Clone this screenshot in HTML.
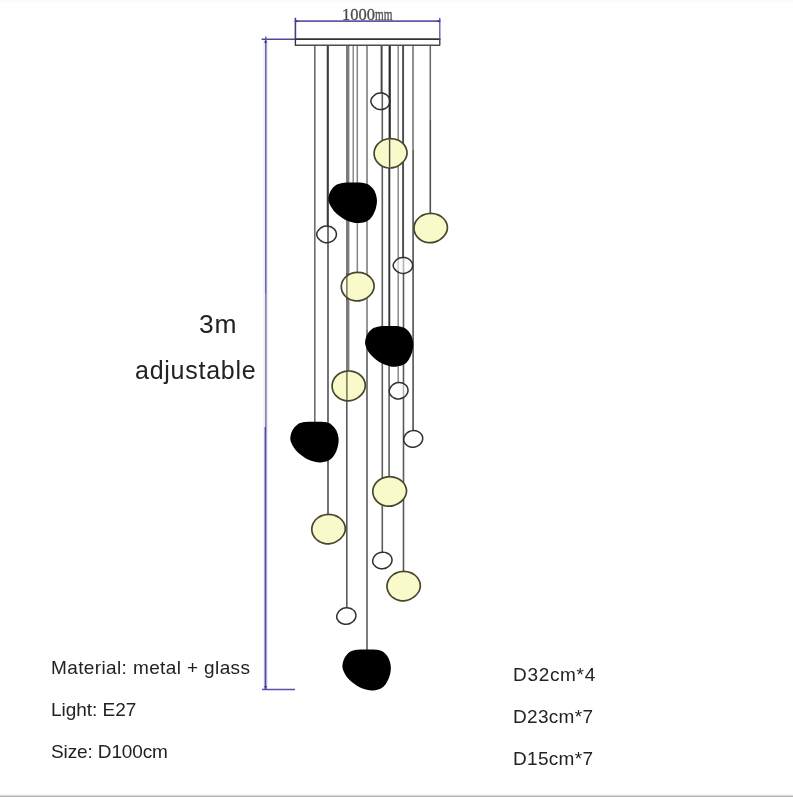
<!DOCTYPE html>
<html><head><meta charset="utf-8"><title>Chandelier dimensions</title>
<style>
html,body{margin:0;padding:0;background:#fff;}
body{width:793px;height:797px;position:relative;overflow:hidden;font-family:"Liberation Sans",sans-serif;color:#222;}
.t{position:absolute;white-space:nowrap;line-height:1;margin:0;opacity:0.999;will-change:transform;}
.s{font-size:19px;letter-spacing:0.32px;}
.dim{font-family:"Liberation Serif",serif;color:#484848;font-size:16px;-webkit-text-stroke:0.3px #555;}
.dim span{display:inline-block;transform-origin:0 100%;}
.bot{position:absolute;left:0;bottom:0;width:793px;height:3px;background:linear-gradient(#fff 0,#e4e4e4 45%,#9a9a9a 100%);}
</style></head><body>
<svg width="793" height="797" viewBox="0 0 793 797" style="position:absolute;left:0;top:0">
<line x1="314.8" y1="45.0" x2="314.8" y2="422.5" stroke="#6c6c6c" stroke-width="1.6"/>
<line x1="327.8" y1="45.0" x2="327.8" y2="226.0" stroke="#3c3c3c" stroke-width="2.1"/>
<line x1="328.0" y1="226.0" x2="328.0" y2="514.0" stroke="#525252" stroke-width="1.6"/>
<line x1="347.7" y1="45.0" x2="347.7" y2="371.5" stroke="#7c7c7c" stroke-width="3.4"/>
<line x1="346.8" y1="371.0" x2="346.8" y2="608.0" stroke="#5a5a5a" stroke-width="1.6"/>
<line x1="353.2" y1="45.0" x2="353.2" y2="183.5" stroke="#858585" stroke-width="1.4"/>
<line x1="357.3" y1="45.0" x2="357.3" y2="272.0" stroke="#858585" stroke-width="1.5"/>
<line x1="367.0" y1="45.0" x2="367.0" y2="330.0" stroke="#747474" stroke-width="1.5"/>
<line x1="367.0" y1="330.0" x2="367.0" y2="650.0" stroke="#5c5c5c" stroke-width="1.6"/>
<line x1="381.6" y1="45.0" x2="381.6" y2="93.3" stroke="#484848" stroke-width="2.0"/>
<line x1="382.3" y1="93.0" x2="382.3" y2="552.4" stroke="#5e5e5e" stroke-width="1.6"/>
<line x1="389.7" y1="45.0" x2="389.7" y2="139.0" stroke="#2a2a2a" stroke-width="2.2"/>
<line x1="389.3" y1="139.0" x2="389.3" y2="327.0" stroke="#333" stroke-width="1.9"/>
<line x1="389.1" y1="327.0" x2="389.1" y2="476.5" stroke="#555" stroke-width="1.5"/>
<line x1="398.2" y1="45.0" x2="398.2" y2="382.6" stroke="#808080" stroke-width="1.4"/>
<line x1="403.1" y1="45.0" x2="403.1" y2="257.5" stroke="#4a4a4a" stroke-width="1.9"/>
<line x1="403.5" y1="257.0" x2="403.5" y2="571.7" stroke="#5a5a5a" stroke-width="1.6"/>
<line x1="413.0" y1="45.0" x2="413.0" y2="150.0" stroke="#6c6c6c" stroke-width="1.5"/>
<line x1="413.1" y1="150.0" x2="413.1" y2="431.0" stroke="#5a5a5a" stroke-width="1.7"/>
<line x1="430.3" y1="45.0" x2="430.3" y2="120.0" stroke="#666" stroke-width="1.5"/>
<line x1="430.3" y1="120.0" x2="430.3" y2="213.3" stroke="#505050" stroke-width="1.6"/>
<rect x="295.4" y="39.2" width="144.4" height="6" fill="#fff" stroke="none"/>
<line x1="294.6" y1="39.2" x2="440.4" y2="39.2" stroke="#333" stroke-width="1.8"/>
<line x1="295" y1="45.2" x2="440" y2="45.2" stroke="#4c4c4c" stroke-width="1.4"/>
<line x1="295.4" y1="39" x2="295.4" y2="45.6" stroke="#333" stroke-width="1.4"/>
<line x1="439.8" y1="39" x2="439.8" y2="45.6" stroke="#444" stroke-width="1.4"/>
<line x1="265.7" y1="41" x2="265.7" y2="690" stroke="#e4e4fb" stroke-width="4.6" stroke-opacity="0.75"/>
<line x1="295.4" y1="17.8" x2="295.4" y2="39" stroke="#423f88" stroke-width="1.6"/>
<line x1="439.8" y1="17.8" x2="439.8" y2="39" stroke="#5a58a8" stroke-width="1.3"/>
<line x1="294.6" y1="21.2" x2="440.6" y2="21.2" stroke="#5f58a8" stroke-width="1.7"/>
<path d="M295.4 19.8 L299.5 21.2 L295.4 22.4Z M439.8 19.8 L435.7 21.2 L439.8 22.4Z" fill="#423f88"/>
<line x1="261.6" y1="39.2" x2="295" y2="39.2" stroke="#4e4a96" stroke-width="1.5"/>
<line x1="265.8" y1="36.5" x2="265.8" y2="293" stroke="#6060a6" stroke-width="1.5"/>
<line x1="265.9" y1="293" x2="265.9" y2="427.2" stroke="#74748e" stroke-width="1.4"/>
<line x1="265.5" y1="427" x2="265.5" y2="690" stroke="#4c4c9a" stroke-width="1.8"/>
<path d="M264.2 43 L265.6 38.6 L267 43Z M264.2 686 L265.6 690 L267 686Z" fill="#423f88"/>
<line x1="262" y1="689.4" x2="295" y2="689.4" stroke="#5552a8" stroke-width="1.5"/>
<defs><linearGradient id="yl" x1="0" x2="1" y1="0" y2="0"><stop offset="0.19" stop-color="#fdfdf0"/><stop offset="0.19" stop-color="#f9fac9"/></linearGradient></defs>
<path d="M407.00 153.42C406.95 154.50 406.73 155.61 406.39 156.64C406.05 157.67 405.55 158.68 404.97 159.60C404.38 160.52 403.67 161.39 402.91 162.18C402.14 162.98 401.30 163.71 400.39 164.37C399.49 165.04 398.52 165.65 397.49 166.16C396.46 166.67 395.35 167.12 394.21 167.43C393.07 167.73 391.85 167.94 390.64 168.00C389.44 168.06 388.18 167.98 386.99 167.77C385.79 167.56 384.59 167.20 383.48 166.74C382.37 166.28 381.30 165.68 380.33 165.00C379.37 164.32 378.48 163.52 377.71 162.66C376.94 161.80 376.27 160.84 375.74 159.85C375.21 158.86 374.79 157.79 374.51 156.72C374.24 155.65 374.10 154.52 374.10 153.42C374.10 152.32 374.24 151.19 374.51 150.12C374.79 149.05 375.21 147.98 375.74 146.99C376.27 146.00 376.94 145.04 377.71 144.18C378.47 143.32 379.37 142.52 380.33 141.83C381.29 141.15 382.36 140.54 383.46 140.07C384.57 139.59 385.77 139.22 386.96 138.97C388.16 138.73 389.42 138.60 390.64 138.60C391.87 138.60 393.13 138.73 394.32 138.97C395.52 139.22 396.71 139.59 397.82 140.07C398.92 140.54 400.00 141.15 400.96 141.83C401.91 142.52 402.81 143.32 403.57 144.18C404.33 145.04 405.01 146.01 405.53 147.00C406.05 147.99 406.46 149.07 406.70 150.14C406.95 151.21 407.05 152.34 407.00 153.42Z" fill="#f9fac9" stroke="none"/>
<line x1="389.6" y1="139.3" x2="389.6" y2="167.3" stroke="#46463a" stroke-width="1.4"/>
<path d="M407.00 153.42C406.95 154.50 406.73 155.61 406.39 156.64C406.05 157.67 405.55 158.68 404.97 159.60C404.38 160.52 403.67 161.39 402.91 162.18C402.14 162.98 401.30 163.71 400.39 164.37C399.49 165.04 398.52 165.65 397.49 166.16C396.46 166.67 395.35 167.12 394.21 167.43C393.07 167.73 391.85 167.94 390.64 168.00C389.44 168.06 388.18 167.98 386.99 167.77C385.79 167.56 384.59 167.20 383.48 166.74C382.37 166.28 381.30 165.68 380.33 165.00C379.37 164.32 378.48 163.52 377.71 162.66C376.94 161.80 376.27 160.84 375.74 159.85C375.21 158.86 374.79 157.79 374.51 156.72C374.24 155.65 374.10 154.52 374.10 153.42C374.10 152.32 374.24 151.19 374.51 150.12C374.79 149.05 375.21 147.98 375.74 146.99C376.27 146.00 376.94 145.04 377.71 144.18C378.47 143.32 379.37 142.52 380.33 141.83C381.29 141.15 382.36 140.54 383.46 140.07C384.57 139.59 385.77 139.22 386.96 138.97C388.16 138.73 389.42 138.60 390.64 138.60C391.87 138.60 393.13 138.73 394.32 138.97C395.52 139.22 396.71 139.59 397.82 140.07C398.92 140.54 400.00 141.15 400.96 141.83C401.91 142.52 402.81 143.32 403.57 144.18C404.33 145.04 405.01 146.01 405.53 147.00C406.05 147.99 406.46 149.07 406.70 150.14C406.95 151.21 407.05 152.34 407.00 153.42Z" fill="none" stroke="#48462f" stroke-width="1.7"/>
<path d="M447.40 228.17C447.35 229.25 447.13 230.35 446.78 231.38C446.44 232.41 445.92 233.41 445.33 234.33C444.74 235.25 444.02 236.11 443.24 236.90C442.47 237.70 441.61 238.43 440.69 239.09C439.78 239.75 438.79 240.36 437.75 240.87C436.70 241.37 435.58 241.82 434.42 242.13C433.26 242.43 432.02 242.64 430.79 242.70C429.57 242.76 428.29 242.68 427.08 242.47C425.87 242.26 424.65 241.91 423.52 241.45C422.40 240.99 421.31 240.39 420.33 239.71C419.35 239.03 418.44 238.23 417.67 237.38C416.89 236.52 416.20 235.56 415.66 234.58C415.12 233.59 414.70 232.52 414.42 231.46C414.14 230.39 414.00 229.27 414.00 228.17C414.00 227.07 414.14 225.95 414.42 224.88C414.70 223.82 415.12 222.75 415.66 221.76C416.20 220.77 416.89 219.82 417.66 218.96C418.44 218.10 419.35 217.31 420.32 216.62C421.30 215.94 422.38 215.34 423.51 214.86C424.63 214.39 425.84 214.01 427.06 213.77C428.27 213.53 429.55 213.40 430.79 213.40C432.04 213.40 433.32 213.53 434.53 213.77C435.74 214.01 436.96 214.39 438.08 214.86C439.20 215.34 440.29 215.94 441.26 216.62C442.24 217.31 443.15 218.11 443.92 218.96C444.69 219.82 445.38 220.78 445.90 221.77C446.43 222.76 446.85 223.83 447.10 224.90C447.35 225.96 447.45 227.09 447.40 228.17Z" fill="#f9fac9" stroke="none"/>
<path d="M447.40 228.17C447.35 229.25 447.13 230.35 446.78 231.38C446.44 232.41 445.92 233.41 445.33 234.33C444.74 235.25 444.02 236.11 443.24 236.90C442.47 237.70 441.61 238.43 440.69 239.09C439.78 239.75 438.79 240.36 437.75 240.87C436.70 241.37 435.58 241.82 434.42 242.13C433.26 242.43 432.02 242.64 430.79 242.70C429.57 242.76 428.29 242.68 427.08 242.47C425.87 242.26 424.65 241.91 423.52 241.45C422.40 240.99 421.31 240.39 420.33 239.71C419.35 239.03 418.44 238.23 417.67 237.38C416.89 236.52 416.20 235.56 415.66 234.58C415.12 233.59 414.70 232.52 414.42 231.46C414.14 230.39 414.00 229.27 414.00 228.17C414.00 227.07 414.14 225.95 414.42 224.88C414.70 223.82 415.12 222.75 415.66 221.76C416.20 220.77 416.89 219.82 417.66 218.96C418.44 218.10 419.35 217.31 420.32 216.62C421.30 215.94 422.38 215.34 423.51 214.86C424.63 214.39 425.84 214.01 427.06 213.77C428.27 213.53 429.55 213.40 430.79 213.40C432.04 213.40 433.32 213.53 434.53 213.77C435.74 214.01 436.96 214.39 438.08 214.86C439.20 215.34 440.29 215.94 441.26 216.62C442.24 217.31 443.15 218.11 443.92 218.96C444.69 219.82 445.38 220.78 445.90 221.77C446.43 222.76 446.85 223.83 447.10 224.90C447.35 225.96 447.45 227.09 447.40 228.17Z" fill="none" stroke="#48462f" stroke-width="1.7"/>
<path d="M374.10 286.72C374.05 287.77 373.83 288.85 373.49 289.85C373.16 290.85 372.65 291.83 372.07 292.73C371.49 293.63 370.78 294.47 370.02 295.24C369.26 296.01 368.41 296.73 367.51 297.37C366.61 298.02 365.65 298.62 364.62 299.11C363.59 299.61 362.49 300.04 361.35 300.34C360.21 300.64 358.99 300.84 357.79 300.90C356.59 300.96 355.34 300.88 354.15 300.68C352.96 300.47 351.76 300.13 350.65 299.68C349.55 299.23 348.47 298.64 347.52 297.98C346.56 297.32 345.66 296.54 344.90 295.70C344.14 294.87 343.46 293.94 342.93 292.97C342.40 292.01 341.99 290.97 341.71 289.92C341.44 288.88 341.30 287.79 341.30 286.72C341.30 285.65 341.44 284.55 341.71 283.51C341.99 282.47 342.40 281.43 342.93 280.46C343.46 279.50 344.14 278.56 344.90 277.73C345.66 276.89 346.55 276.11 347.51 275.45C348.47 274.78 349.53 274.19 350.64 273.73C351.74 273.26 352.93 272.90 354.12 272.66C355.31 272.42 356.57 272.30 357.79 272.30C359.02 272.30 360.27 272.42 361.46 272.66C362.65 272.90 363.85 273.26 364.95 273.73C366.05 274.19 367.12 274.78 368.07 275.45C369.03 276.11 369.92 276.89 370.68 277.73C371.44 278.57 372.11 279.50 372.63 280.47C373.15 281.43 373.56 282.48 373.80 283.52C374.05 284.56 374.15 285.66 374.10 286.72Z" fill="url(#yl)" stroke="none"/>
<line x1="346.9" y1="273.0" x2="346.9" y2="300.2" stroke="#55533a" stroke-width="1.2"/>
<path d="M374.10 286.72C374.05 287.77 373.83 288.85 373.49 289.85C373.16 290.85 372.65 291.83 372.07 292.73C371.49 293.63 370.78 294.47 370.02 295.24C369.26 296.01 368.41 296.73 367.51 297.37C366.61 298.02 365.65 298.62 364.62 299.11C363.59 299.61 362.49 300.04 361.35 300.34C360.21 300.64 358.99 300.84 357.79 300.90C356.59 300.96 355.34 300.88 354.15 300.68C352.96 300.47 351.76 300.13 350.65 299.68C349.55 299.23 348.47 298.64 347.52 297.98C346.56 297.32 345.66 296.54 344.90 295.70C344.14 294.87 343.46 293.94 342.93 292.97C342.40 292.01 341.99 290.97 341.71 289.92C341.44 288.88 341.30 287.79 341.30 286.72C341.30 285.65 341.44 284.55 341.71 283.51C341.99 282.47 342.40 281.43 342.93 280.46C343.46 279.50 344.14 278.56 344.90 277.73C345.66 276.89 346.55 276.11 347.51 275.45C348.47 274.78 349.53 274.19 350.64 273.73C351.74 273.26 352.93 272.90 354.12 272.66C355.31 272.42 356.57 272.30 357.79 272.30C359.02 272.30 360.27 272.42 361.46 272.66C362.65 272.90 363.85 273.26 364.95 273.73C366.05 274.19 367.12 274.78 368.07 275.45C369.03 276.11 369.92 276.89 370.68 277.73C371.44 278.57 372.11 279.50 372.63 280.47C373.15 281.43 373.56 282.48 373.80 283.52C374.05 284.56 374.15 285.66 374.10 286.72Z" fill="none" stroke="#48462f" stroke-width="1.7"/>
<path d="M365.30 386.02C365.25 387.12 365.03 388.24 364.69 389.29C364.34 390.33 363.83 391.35 363.25 392.29C362.66 393.22 361.94 394.10 361.17 394.90C360.40 395.71 359.54 396.45 358.63 397.13C357.72 397.80 356.74 398.42 355.70 398.94C354.66 399.45 353.55 399.91 352.39 400.22C351.24 400.53 350.01 400.74 348.79 400.80C347.58 400.86 346.31 400.78 345.10 400.57C343.90 400.35 342.69 399.99 341.57 399.52C340.45 399.06 339.36 398.45 338.39 397.76C337.42 397.07 336.52 396.26 335.74 395.39C334.97 394.52 334.29 393.54 333.75 392.54C333.22 391.54 332.79 390.45 332.52 389.36C332.24 388.28 332.10 387.14 332.10 386.02C332.10 384.91 332.24 383.77 332.52 382.68C332.79 381.59 333.22 380.51 333.75 379.50C334.29 378.50 334.97 377.53 335.74 376.66C336.51 375.78 337.42 374.97 338.39 374.28C339.35 373.58 340.43 372.97 341.55 372.49C342.67 372.00 343.87 371.62 345.08 371.38C346.29 371.13 347.55 371.00 348.79 371.00C350.03 371.00 351.30 371.13 352.51 371.38C353.71 371.62 354.92 372.00 356.04 372.49C357.15 372.97 358.23 373.58 359.20 374.28C360.17 374.97 361.07 375.79 361.84 376.66C362.61 377.53 363.29 378.51 363.81 379.51C364.34 380.52 364.75 381.61 365.00 382.69C365.25 383.78 365.35 384.92 365.30 386.02Z" fill="#f9fac9" stroke="none"/>
<line x1="346.9" y1="371.7" x2="346.9" y2="400.1" stroke="#66644e" stroke-width="1.4"/>
<path d="M365.30 386.02C365.25 387.12 365.03 388.24 364.69 389.29C364.34 390.33 363.83 391.35 363.25 392.29C362.66 393.22 361.94 394.10 361.17 394.90C360.40 395.71 359.54 396.45 358.63 397.13C357.72 397.80 356.74 398.42 355.70 398.94C354.66 399.45 353.55 399.91 352.39 400.22C351.24 400.53 350.01 400.74 348.79 400.80C347.58 400.86 346.31 400.78 345.10 400.57C343.90 400.35 342.69 399.99 341.57 399.52C340.45 399.06 339.36 398.45 338.39 397.76C337.42 397.07 336.52 396.26 335.74 395.39C334.97 394.52 334.29 393.54 333.75 392.54C333.22 391.54 332.79 390.45 332.52 389.36C332.24 388.28 332.10 387.14 332.10 386.02C332.10 384.91 332.24 383.77 332.52 382.68C332.79 381.59 333.22 380.51 333.75 379.50C334.29 378.50 334.97 377.53 335.74 376.66C336.51 375.78 337.42 374.97 338.39 374.28C339.35 373.58 340.43 372.97 341.55 372.49C342.67 372.00 343.87 371.62 345.08 371.38C346.29 371.13 347.55 371.00 348.79 371.00C350.03 371.00 351.30 371.13 352.51 371.38C353.71 371.62 354.92 372.00 356.04 372.49C357.15 372.97 358.23 373.58 359.20 374.28C360.17 374.97 361.07 375.79 361.84 376.66C362.61 377.53 363.29 378.51 363.81 379.51C364.34 380.52 364.75 381.61 365.00 382.69C365.25 383.78 365.35 384.92 365.30 386.02Z" fill="none" stroke="#48462f" stroke-width="1.7"/>
<path d="M406.50 491.57C406.45 492.66 406.23 493.77 405.88 494.80C405.53 495.84 405.01 496.84 404.42 497.77C403.82 498.70 403.09 499.56 402.31 500.36C401.53 501.16 400.66 501.90 399.73 502.56C398.81 503.23 397.82 503.84 396.76 504.36C395.70 504.87 394.57 505.32 393.40 505.63C392.23 505.93 390.98 506.14 389.74 506.20C388.51 506.26 387.22 506.18 386.00 505.97C384.78 505.76 383.55 505.40 382.41 504.94C381.27 504.47 380.17 503.87 379.19 503.19C378.20 502.51 377.28 501.70 376.50 500.84C375.71 499.98 375.02 499.02 374.48 498.02C373.93 497.03 373.50 495.95 373.22 494.88C372.95 493.80 372.80 492.67 372.80 491.57C372.80 490.47 372.95 489.34 373.22 488.26C373.50 487.19 373.93 486.11 374.48 485.12C375.02 484.12 375.71 483.16 376.50 482.30C377.28 481.44 378.20 480.63 379.18 479.94C380.16 479.26 381.26 478.65 382.39 478.17C383.52 477.69 384.75 477.32 385.97 477.07C387.20 476.83 388.49 476.70 389.74 476.70C391.00 476.70 392.29 476.83 393.51 477.07C394.74 477.32 395.96 477.69 397.10 478.17C398.23 478.65 399.33 479.26 400.31 479.94C401.29 480.63 402.21 481.44 402.99 482.30C403.77 483.17 404.46 484.13 404.99 485.13C405.53 486.12 405.94 487.20 406.19 488.28C406.45 489.35 406.55 490.48 406.50 491.57Z" fill="#f9fac9" stroke="none"/>
<path d="M406.50 491.57C406.45 492.66 406.23 493.77 405.88 494.80C405.53 495.84 405.01 496.84 404.42 497.77C403.82 498.70 403.09 499.56 402.31 500.36C401.53 501.16 400.66 501.90 399.73 502.56C398.81 503.23 397.82 503.84 396.76 504.36C395.70 504.87 394.57 505.32 393.40 505.63C392.23 505.93 390.98 506.14 389.74 506.20C388.51 506.26 387.22 506.18 386.00 505.97C384.78 505.76 383.55 505.40 382.41 504.94C381.27 504.47 380.17 503.87 379.19 503.19C378.20 502.51 377.28 501.70 376.50 500.84C375.71 499.98 375.02 499.02 374.48 498.02C373.93 497.03 373.50 495.95 373.22 494.88C372.95 493.80 372.80 492.67 372.80 491.57C372.80 490.47 372.95 489.34 373.22 488.26C373.50 487.19 373.93 486.11 374.48 485.12C375.02 484.12 375.71 483.16 376.50 482.30C377.28 481.44 378.20 480.63 379.18 479.94C380.16 479.26 381.26 478.65 382.39 478.17C383.52 477.69 384.75 477.32 385.97 477.07C387.20 476.83 388.49 476.70 389.74 476.70C391.00 476.70 392.29 476.83 393.51 477.07C394.74 477.32 395.96 477.69 397.10 478.17C398.23 478.65 399.33 479.26 400.31 479.94C401.29 480.63 402.21 481.44 402.99 482.30C403.77 483.17 404.46 484.13 404.99 485.13C405.53 486.12 405.94 487.20 406.19 488.28C406.45 489.35 406.55 490.48 406.50 491.57Z" fill="none" stroke="#48462f" stroke-width="1.7"/>
<path d="M345.30 529.22C345.25 530.30 345.03 531.41 344.68 532.44C344.34 533.47 343.82 534.48 343.23 535.40C342.64 536.32 341.91 537.19 341.13 537.98C340.36 538.78 339.49 539.51 338.57 540.17C337.65 540.84 336.67 541.45 335.62 541.96C334.57 542.47 333.44 542.92 332.28 543.23C331.12 543.53 329.87 543.74 328.64 543.80C327.42 543.86 326.14 543.78 324.92 543.57C323.71 543.36 322.48 543.00 321.35 542.54C320.22 542.08 319.13 541.48 318.15 540.80C317.17 540.12 316.26 539.32 315.48 538.46C314.70 537.60 314.01 536.64 313.47 535.65C312.93 534.66 312.50 533.59 312.22 532.52C311.94 531.45 311.80 530.32 311.80 529.22C311.80 528.12 311.94 526.99 312.22 525.92C312.50 524.85 312.93 523.78 313.47 522.79C314.01 521.80 314.70 520.84 315.47 519.98C316.25 519.12 317.17 518.32 318.14 517.63C319.12 516.95 320.21 516.34 321.34 515.87C322.46 515.39 323.68 515.02 324.90 514.77C326.11 514.53 327.39 514.40 328.64 514.40C329.89 514.40 331.17 514.53 332.39 514.77C333.61 515.02 334.83 515.39 335.95 515.87C337.08 516.34 338.17 516.95 339.15 517.63C340.12 518.32 341.03 519.12 341.81 519.98C342.58 520.84 343.27 521.81 343.80 522.80C344.33 523.79 344.75 524.87 345.00 525.94C345.25 527.01 345.35 528.14 345.30 529.22Z" fill="#f9fac9" stroke="none"/>
<path d="M345.30 529.22C345.25 530.30 345.03 531.41 344.68 532.44C344.34 533.47 343.82 534.48 343.23 535.40C342.64 536.32 341.91 537.19 341.13 537.98C340.36 538.78 339.49 539.51 338.57 540.17C337.65 540.84 336.67 541.45 335.62 541.96C334.57 542.47 333.44 542.92 332.28 543.23C331.12 543.53 329.87 543.74 328.64 543.80C327.42 543.86 326.14 543.78 324.92 543.57C323.71 543.36 322.48 543.00 321.35 542.54C320.22 542.08 319.13 541.48 318.15 540.80C317.17 540.12 316.26 539.32 315.48 538.46C314.70 537.60 314.01 536.64 313.47 535.65C312.93 534.66 312.50 533.59 312.22 532.52C311.94 531.45 311.80 530.32 311.80 529.22C311.80 528.12 311.94 526.99 312.22 525.92C312.50 524.85 312.93 523.78 313.47 522.79C314.01 521.80 314.70 520.84 315.47 519.98C316.25 519.12 317.17 518.32 318.14 517.63C319.12 516.95 320.21 516.34 321.34 515.87C322.46 515.39 323.68 515.02 324.90 514.77C326.11 514.53 327.39 514.40 328.64 514.40C329.89 514.40 331.17 514.53 332.39 514.77C333.61 515.02 334.83 515.39 335.95 515.87C337.08 516.34 338.17 516.95 339.15 517.63C340.12 518.32 341.03 519.12 341.81 519.98C342.58 520.84 343.27 521.81 343.80 522.80C344.33 523.79 344.75 524.87 345.00 525.94C345.25 527.01 345.35 528.14 345.30 529.22Z" fill="none" stroke="#48462f" stroke-width="1.7"/>
<path d="M420.30 586.22C420.25 587.30 420.03 588.41 419.69 589.44C419.34 590.47 418.83 591.48 418.24 592.40C417.65 593.32 416.93 594.19 416.16 594.98C415.39 595.78 414.53 596.51 413.61 597.17C412.70 597.84 411.72 598.45 410.68 598.96C409.63 599.47 408.51 599.92 407.36 600.23C406.20 600.53 404.96 600.74 403.74 600.80C402.52 600.86 401.25 600.78 400.04 600.57C398.84 600.36 397.62 600.00 396.50 599.54C395.37 599.08 394.28 598.48 393.31 597.80C392.34 597.12 391.43 596.32 390.65 595.46C389.88 594.60 389.20 593.64 388.66 592.65C388.12 591.66 387.70 590.59 387.42 589.52C387.14 588.45 387.00 587.32 387.00 586.22C387.00 585.12 387.14 583.99 387.42 582.92C387.70 581.85 388.12 580.78 388.66 579.79C389.20 578.80 389.88 577.84 390.65 576.98C391.43 576.12 392.33 575.32 393.30 574.63C394.28 573.95 395.36 573.34 396.48 572.87C397.60 572.39 398.81 572.02 400.02 571.77C401.23 571.53 402.50 571.40 403.74 571.40C404.99 571.40 406.26 571.53 407.47 571.77C408.68 572.02 409.89 572.39 411.01 572.87C412.13 573.34 413.21 573.95 414.18 574.63C415.15 575.32 416.06 576.12 416.83 576.98C417.60 577.84 418.28 578.81 418.81 579.80C419.34 580.79 419.75 581.87 420.00 582.94C420.25 584.01 420.35 585.14 420.30 586.22Z" fill="#f9fac9" stroke="none"/>
<path d="M420.30 586.22C420.25 587.30 420.03 588.41 419.69 589.44C419.34 590.47 418.83 591.48 418.24 592.40C417.65 593.32 416.93 594.19 416.16 594.98C415.39 595.78 414.53 596.51 413.61 597.17C412.70 597.84 411.72 598.45 410.68 598.96C409.63 599.47 408.51 599.92 407.36 600.23C406.20 600.53 404.96 600.74 403.74 600.80C402.52 600.86 401.25 600.78 400.04 600.57C398.84 600.36 397.62 600.00 396.50 599.54C395.37 599.08 394.28 598.48 393.31 597.80C392.34 597.12 391.43 596.32 390.65 595.46C389.88 594.60 389.20 593.64 388.66 592.65C388.12 591.66 387.70 590.59 387.42 589.52C387.14 588.45 387.00 587.32 387.00 586.22C387.00 585.12 387.14 583.99 387.42 582.92C387.70 581.85 388.12 580.78 388.66 579.79C389.20 578.80 389.88 577.84 390.65 576.98C391.43 576.12 392.33 575.32 393.30 574.63C394.28 573.95 395.36 573.34 396.48 572.87C397.60 572.39 398.81 572.02 400.02 571.77C401.23 571.53 402.50 571.40 403.74 571.40C404.99 571.40 406.26 571.53 407.47 571.77C408.68 572.02 409.89 572.39 411.01 572.87C412.13 573.34 413.21 573.95 414.18 574.63C415.15 575.32 416.06 576.12 416.83 576.98C417.60 577.84 418.28 578.81 418.81 579.80C419.34 580.79 419.75 581.87 420.00 582.94C420.25 584.01 420.35 585.14 420.30 586.22Z" fill="none" stroke="#48462f" stroke-width="1.7"/>
<path d="M389.90 101.25C389.90 101.87 389.82 102.51 389.66 103.11C389.50 103.72 389.26 104.32 388.95 104.88C388.65 105.44 388.26 105.99 387.81 106.47C387.37 106.96 386.85 107.41 386.30 107.80C385.75 108.19 385.13 108.53 384.49 108.80C383.85 109.07 383.16 109.28 382.47 109.41C381.77 109.55 381.04 109.62 380.34 109.60C379.63 109.58 378.91 109.49 378.24 109.32C377.57 109.14 376.91 108.87 376.32 108.56C375.73 108.25 375.20 107.85 374.70 107.45C374.20 107.05 373.74 106.62 373.31 106.16C372.87 105.71 372.44 105.24 372.10 104.73C371.75 104.21 371.42 103.65 371.22 103.07C371.02 102.49 370.90 101.86 370.90 101.25C370.90 100.64 371.02 100.01 371.22 99.43C371.42 98.85 371.75 98.29 372.10 97.77C372.44 97.26 372.87 96.79 373.31 96.34C373.74 95.88 374.20 95.45 374.70 95.05C375.20 94.65 375.73 94.25 376.32 93.94C376.91 93.63 377.57 93.36 378.24 93.18C378.91 93.01 379.63 92.92 380.34 92.90C381.04 92.88 381.77 92.95 382.47 93.09C383.16 93.22 383.85 93.43 384.49 93.70C385.13 93.97 385.75 94.31 386.30 94.70C386.85 95.09 387.37 95.54 387.81 96.03C388.26 96.51 388.65 97.06 388.95 97.62C389.26 98.18 389.50 98.78 389.66 99.39C389.82 99.99 389.90 100.63 389.90 101.25Z" fill="#fff" fill-opacity="0" stroke="#303030" stroke-width="1.5"/>
<path d="M336.40 234.35C336.40 234.97 336.32 235.61 336.15 236.21C335.99 236.82 335.74 237.42 335.42 237.98C335.10 238.54 334.70 239.09 334.24 239.57C333.78 240.06 333.24 240.51 332.67 240.90C332.09 241.29 331.45 241.63 330.79 241.90C330.13 242.17 329.41 242.38 328.69 242.51C327.98 242.65 327.22 242.72 326.49 242.70C325.76 242.68 325.00 242.59 324.31 242.42C323.61 242.24 322.94 241.97 322.32 241.66C321.71 241.35 321.16 240.95 320.64 240.55C320.12 240.15 319.65 239.72 319.20 239.26C318.75 238.81 318.30 238.34 317.94 237.83C317.58 237.31 317.24 236.75 317.03 236.17C316.83 235.59 316.70 234.96 316.70 234.35C316.70 233.74 316.83 233.11 317.03 232.53C317.24 231.95 317.58 231.39 317.94 230.87C318.30 230.36 318.75 229.89 319.20 229.44C319.65 228.98 320.12 228.55 320.64 228.15C321.16 227.75 321.71 227.35 322.32 227.04C322.94 226.73 323.61 226.46 324.31 226.28C325.00 226.11 325.76 226.02 326.49 226.00C327.22 225.98 327.98 226.05 328.69 226.19C329.41 226.32 330.13 226.53 330.79 226.80C331.45 227.07 332.09 227.41 332.67 227.80C333.24 228.19 333.78 228.64 334.24 229.13C334.70 229.61 335.10 230.16 335.42 230.72C335.74 231.28 335.99 231.88 336.15 232.49C336.32 233.09 336.40 233.73 336.40 234.35Z" fill="#fff" fill-opacity="0" stroke="#303030" stroke-width="1.5"/>
<path d="M412.60 265.40C412.60 266.00 412.52 266.61 412.36 267.19C412.19 267.77 411.95 268.35 411.63 268.88C411.32 269.42 410.92 269.94 410.47 270.40C410.02 270.87 409.49 271.30 408.92 271.67C408.36 272.05 407.73 272.37 407.07 272.63C406.42 272.89 405.72 273.09 405.01 273.22C404.30 273.35 403.56 273.42 402.84 273.40C402.12 273.38 401.38 273.29 400.69 273.13C400.01 272.96 399.34 272.70 398.74 272.40C398.14 272.10 397.59 271.72 397.08 271.34C396.56 270.96 396.10 270.54 395.66 270.11C395.21 269.67 394.78 269.23 394.42 268.73C394.07 268.24 393.73 267.70 393.53 267.15C393.32 266.59 393.20 265.98 393.20 265.40C393.20 264.82 393.32 264.21 393.53 263.65C393.73 263.10 394.07 262.56 394.42 262.07C394.78 261.57 395.21 261.13 395.66 260.69C396.10 260.26 396.56 259.84 397.08 259.46C397.59 259.08 398.14 258.70 398.74 258.40C399.34 258.10 400.01 257.84 400.69 257.67C401.38 257.51 402.12 257.42 402.84 257.40C403.56 257.38 404.30 257.45 405.01 257.58C405.72 257.71 406.42 257.91 407.07 258.17C407.73 258.43 408.36 258.75 408.92 259.13C409.49 259.50 410.02 259.93 410.47 260.40C410.92 260.86 411.32 261.38 411.63 261.92C411.95 262.45 412.19 263.03 412.36 263.61C412.52 264.19 412.60 264.80 412.60 265.40Z" fill="#fff" fill-opacity="0.55" stroke="#303030" stroke-width="1.5"/>
<path d="M407.86 388.79C407.98 389.38 408.03 390.00 408.00 390.60C407.97 391.21 407.86 391.83 407.67 392.43C407.48 393.02 407.21 393.61 406.88 394.16C406.54 394.71 406.13 395.25 405.67 395.73C405.20 396.21 404.67 396.66 404.10 397.05C403.53 397.43 402.90 397.78 402.25 398.05C401.60 398.32 400.90 398.54 400.21 398.68C399.52 398.82 398.79 398.90 398.09 398.90C397.39 398.90 396.68 398.82 396.02 398.67C395.36 398.52 394.71 398.29 394.13 398.01C393.54 397.73 393.00 397.38 392.50 397.01C392.00 396.63 391.55 396.22 391.14 395.77C390.74 395.32 390.35 394.84 390.07 394.33C389.78 393.82 389.53 393.25 389.41 392.68C389.28 392.12 389.25 391.50 389.30 390.92C389.35 390.33 389.51 389.73 389.71 389.16C389.90 388.59 390.17 388.03 390.49 387.50C390.80 386.96 391.15 386.43 391.58 385.94C392.00 385.46 392.48 384.98 393.02 384.57C393.56 384.17 394.17 383.80 394.80 383.52C395.44 383.23 396.13 383.00 396.82 382.85C397.51 382.70 398.24 382.61 398.94 382.60C399.64 382.59 400.36 382.64 401.04 382.77C401.72 382.89 402.39 383.09 403.01 383.34C403.63 383.59 404.23 383.91 404.76 384.28C405.29 384.65 405.78 385.08 406.20 385.55C406.61 386.01 406.97 386.54 407.24 387.08C407.52 387.62 407.73 388.20 407.86 388.79Z" fill="#fff" fill-opacity="0.55" stroke="#303030" stroke-width="1.5"/>
<path d="M422.55 436.94C422.68 437.55 422.73 438.18 422.70 438.80C422.67 439.42 422.55 440.06 422.36 440.67C422.17 441.27 421.90 441.88 421.56 442.45C421.22 443.01 420.80 443.56 420.33 444.05C419.86 444.54 419.31 445.01 418.73 445.40C418.16 445.80 417.51 446.15 416.86 446.43C416.20 446.71 415.49 446.93 414.79 447.08C414.08 447.22 413.34 447.30 412.63 447.30C411.92 447.30 411.20 447.22 410.53 447.07C409.85 446.91 409.20 446.67 408.60 446.39C408.01 446.10 407.46 445.74 406.95 445.36C406.45 444.98 405.98 444.55 405.57 444.09C405.16 443.64 404.77 443.14 404.48 442.62C404.18 442.09 403.94 441.51 403.81 440.93C403.68 440.35 403.65 439.72 403.70 439.12C403.75 438.52 403.91 437.91 404.11 437.32C404.31 436.74 404.59 436.17 404.90 435.62C405.22 435.07 405.58 434.52 406.01 434.03C406.44 433.53 406.93 433.04 407.48 432.62C408.03 432.21 408.65 431.83 409.29 431.54C409.93 431.24 410.64 431.01 411.34 430.86C412.04 430.70 412.78 430.61 413.49 430.60C414.21 430.59 414.94 430.65 415.63 430.77C416.32 430.90 417.00 431.10 417.63 431.36C418.26 431.61 418.87 431.94 419.41 432.32C419.95 432.70 420.45 433.14 420.87 433.62C421.29 434.10 421.65 434.63 421.93 435.19C422.21 435.74 422.43 436.34 422.55 436.94Z" fill="#fff" fill-opacity="0" stroke="#303030" stroke-width="1.5"/>
<path d="M391.85 558.51C391.98 559.10 392.03 559.74 392.00 560.35C391.97 560.97 391.85 561.60 391.66 562.21C391.46 562.81 391.18 563.42 390.84 563.98C390.50 564.54 390.07 565.08 389.59 565.57C389.11 566.06 388.56 566.52 387.97 566.91C387.38 567.31 386.73 567.66 386.06 567.93C385.40 568.21 384.68 568.43 383.96 568.58C383.25 568.72 382.50 568.80 381.77 568.80C381.05 568.80 380.32 568.72 379.63 568.57C378.95 568.42 378.29 568.18 377.68 567.89C377.08 567.61 376.52 567.25 376.00 566.87C375.49 566.49 375.02 566.07 374.60 565.61C374.18 565.16 373.79 564.67 373.49 564.15C373.19 563.62 372.94 563.05 372.81 562.47C372.68 561.89 372.65 561.27 372.70 560.67C372.75 560.07 372.92 559.46 373.12 558.88C373.32 558.30 373.60 557.73 373.92 557.19C374.25 556.64 374.61 556.10 375.05 555.60C375.49 555.11 375.98 554.62 376.54 554.21C377.09 553.80 377.73 553.43 378.38 553.13C379.03 552.84 379.75 552.61 380.46 552.45C381.17 552.30 381.92 552.21 382.65 552.20C383.37 552.19 384.12 552.25 384.82 552.37C385.52 552.50 386.21 552.69 386.85 552.95C387.49 553.21 388.11 553.54 388.66 553.91C389.20 554.29 389.71 554.73 390.14 555.20C390.56 555.68 390.93 556.21 391.22 556.76C391.51 557.31 391.72 557.91 391.85 558.51Z" fill="#fff" fill-opacity="0" stroke="#303030" stroke-width="1.5"/>
<path d="M355.75 614.07C355.88 614.66 355.93 615.29 355.90 615.90C355.87 616.52 355.75 617.15 355.56 617.75C355.37 618.35 355.09 618.95 354.75 619.50C354.40 620.06 353.98 620.60 353.50 621.09C353.03 621.58 352.48 622.03 351.89 622.43C351.31 622.82 350.66 623.16 349.99 623.44C349.33 623.72 348.61 623.94 347.90 624.08C347.19 624.22 346.45 624.30 345.73 624.30C345.01 624.30 344.28 624.22 343.60 624.07C342.92 623.92 342.26 623.68 341.66 623.40C341.05 623.12 340.50 622.76 339.99 622.38C339.48 622.00 339.01 621.58 338.59 621.13C338.17 620.68 337.78 620.19 337.49 619.67C337.19 619.15 336.94 618.58 336.81 618.01C336.68 617.43 336.65 616.81 336.70 616.22C336.75 615.62 336.92 615.02 337.12 614.44C337.32 613.87 337.60 613.30 337.92 612.76C338.24 612.21 338.60 611.68 339.04 611.18C339.47 610.69 339.97 610.21 340.52 609.80C341.07 609.39 341.70 609.02 342.35 608.73C343.00 608.44 343.71 608.21 344.42 608.05C345.13 607.90 345.88 607.81 346.60 607.80C347.32 607.79 348.06 607.85 348.75 607.97C349.45 608.09 350.14 608.29 350.78 608.55C351.42 608.80 352.03 609.13 352.57 609.50C353.12 609.87 353.62 610.31 354.05 610.78C354.47 611.26 354.84 611.79 355.12 612.33C355.41 612.88 355.62 613.47 355.75 614.07Z" fill="#fff" fill-opacity="0" stroke="#303030" stroke-width="1.5"/>
<path d="M328.40 198.76C328.30 200.97 328.90 202.50 329.85 204.58C330.81 206.65 332.46 209.26 334.12 211.20C335.79 213.14 337.93 214.76 339.85 216.21C341.76 217.67 343.43 218.89 345.62 219.93C347.81 220.97 350.67 221.92 352.99 222.43C355.31 222.95 357.22 223.21 359.54 223.00C361.86 222.79 364.79 222.31 366.91 221.18C369.03 220.05 370.74 218.43 372.24 216.21C373.75 214.00 375.15 210.66 375.93 207.89C376.71 205.12 377.11 202.37 376.90 199.61C376.69 196.85 375.86 193.68 374.67 191.33C373.48 188.98 371.61 186.90 369.77 185.51C367.93 184.12 366.41 183.49 363.61 183.00C360.81 182.52 356.54 182.60 352.99 182.60C349.44 182.60 345.25 182.52 342.32 183.00C339.39 183.49 337.36 184.12 335.38 185.51C333.40 186.90 331.60 189.12 330.44 191.33C329.27 193.53 328.50 196.55 328.40 198.76Z" fill="#000"/>
<path d="M365.10 342.34C365.00 344.56 365.60 346.10 366.54 348.19C367.49 350.27 369.12 352.90 370.78 354.84C372.43 356.79 374.55 358.42 376.45 359.88C378.35 361.34 380.00 362.57 382.18 363.61C384.35 364.66 387.19 365.62 389.49 366.13C391.79 366.65 393.68 366.91 395.98 366.70C398.28 366.49 401.19 366.01 403.29 364.87C405.39 363.74 407.09 362.11 408.58 359.88C410.07 357.65 411.47 354.30 412.24 351.52C413.01 348.73 413.41 345.97 413.20 343.19C412.99 340.42 412.17 337.23 410.99 334.87C409.81 332.51 407.96 330.42 406.13 329.02C404.30 327.63 402.79 326.99 400.02 326.51C397.25 326.02 393.01 326.10 389.49 326.10C385.97 326.10 381.81 326.02 378.90 326.51C375.99 326.99 373.99 327.63 372.03 329.02C370.06 330.42 368.27 332.65 367.12 334.87C365.97 337.09 365.20 340.12 365.10 342.34Z" fill="#000"/>
<path d="M290.30 437.98C290.20 440.20 290.80 441.75 291.75 443.84C292.70 445.93 294.34 448.56 296.00 450.52C297.66 452.47 299.79 454.10 301.70 455.56C303.61 457.03 305.26 458.26 307.45 459.31C309.63 460.35 312.48 461.31 314.79 461.83C317.10 462.35 319.00 462.61 321.31 462.40C323.62 462.19 326.54 461.71 328.65 460.57C330.76 459.43 332.47 457.79 333.96 455.56C335.46 453.33 336.86 449.97 337.63 447.18C338.41 444.39 338.81 441.62 338.60 438.83C338.39 436.05 337.56 432.86 336.38 430.49C335.19 428.12 333.34 426.03 331.50 424.63C329.66 423.23 328.15 422.60 325.37 422.11C322.58 421.62 318.32 421.70 314.79 421.70C311.25 421.70 307.08 421.62 304.16 422.11C301.24 422.60 299.23 423.23 297.26 424.63C295.28 426.03 293.49 428.27 292.33 430.49C291.17 432.72 290.40 435.76 290.30 437.98Z" fill="#000"/>
<path d="M342.40 665.80C342.30 668.04 342.90 669.60 343.85 671.70C344.80 673.81 346.45 676.46 348.11 678.43C349.77 680.40 351.91 682.04 353.82 683.51C355.73 684.99 357.40 686.23 359.58 687.28C361.77 688.34 364.62 689.31 366.94 689.83C369.25 690.35 371.16 690.61 373.47 690.40C375.79 690.19 378.72 689.70 380.83 688.55C382.94 687.41 384.65 685.76 386.15 683.51C387.65 681.26 389.06 677.87 389.83 675.07C390.61 672.26 391.01 669.46 390.80 666.66C390.59 663.86 389.76 660.64 388.57 658.26C387.39 655.87 385.52 653.76 383.69 652.35C381.85 650.94 380.33 650.30 377.54 649.81C374.75 649.32 370.48 649.40 366.94 649.40C363.40 649.40 359.22 649.32 356.29 649.81C353.36 650.30 351.35 650.94 349.37 652.35C347.39 653.76 345.59 656.01 344.43 658.26C343.27 660.50 342.50 663.56 342.40 665.80Z" fill="#000"/>
</svg>
<div class="t dim" id="dim" style="left:341.8px;top:6.5px;"><span style="transform:scale(1.03,1.08)">1000</span><span style="transform:scale(0.70,1.0);margin-left:0.6px">mm</span></div>
<div class="t" id="t3m" style="left:198.7px;top:310.6px;font-size:26.4px;letter-spacing:0.9px;">3m</div>
<div class="t" id="tadj" style="left:134.8px;top:357.9px;font-size:25px;letter-spacing:0.74px;">adjustable</div>
<div class="t s" id="l1" style="left:50.7px;top:658px;letter-spacing:0.38px;">Material: metal + glass</div>
<div class="t s" id="l2" style="left:50.7px;top:700.3px;letter-spacing:-0.03px;">Light: E27</div>
<div class="t s" id="l3" style="left:50.7px;top:742.4px;letter-spacing:-0.12px;">Size: D100cm</div>
<div class="t s" id="r1" style="left:512.9px;top:664.6px;letter-spacing:0.68px;">D32cm*4</div>
<div class="t s" id="r2" style="left:512.9px;top:706.7px;letter-spacing:0.3px;">D23cm*7</div>
<div class="t s" id="r3" style="left:512.9px;top:749.1px;letter-spacing:0.3px;">D15cm*7</div>
<div class="bot"></div><div style="position:absolute;left:0;top:0;width:793px;height:3px;background:linear-gradient(#f9f9f9,#fff)"></div>
</body></html>
